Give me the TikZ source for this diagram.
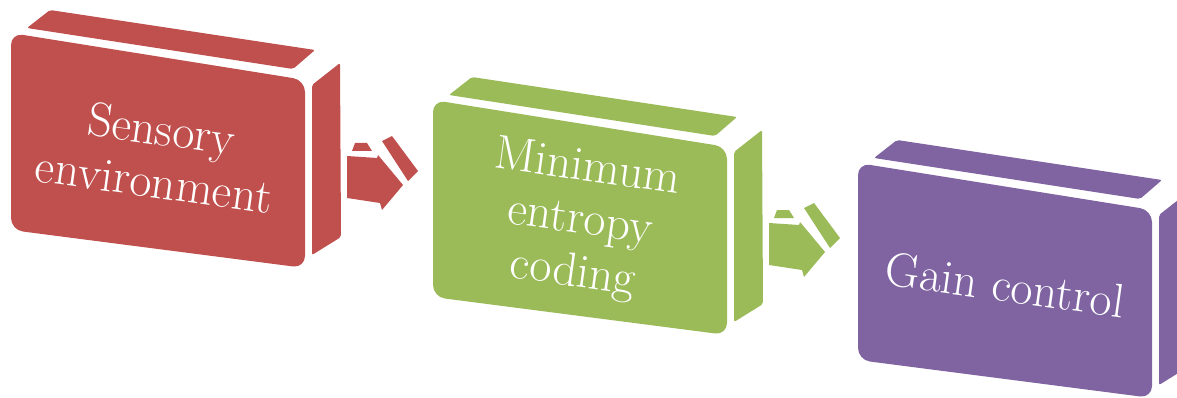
\documentclass[tikz,border=0pt]{standalone}
\usepackage{tikz}
\definecolor{boxred}{HTML}{C0504D}
\definecolor{boxgreen}{HTML}{9BBB59}
\definecolor{boxpurple}{HTML}{8064A2}
\tikzset{
    front face/.style={fill=#1, rounded corners=12},
    side face/.style={fill=#1, rounded corners=2},
    box text/.style={text=white, align=center, rotate=-8,
        font=\fontsize{48}{53}\selectfont},
}

\begin{document}
\begin{tikzpicture}[x=1pt, y=-1pt]
            \useasboundingbox (0,0) rectangle (1177,398);
            % three slanted blocks, each with a front, a top and a right face
            \foreach \n/\ox/\oy/\col/\txt in {%
                    1/11/33/boxred/{Sensory\\environment},
                    2/433/100/boxgreen/{Minimum\\entropy\\coding},
                    3/858/163/boxpurple/{Gain control}}{
                \coordinate (box\n) at (\ox,\oy);
                \begin{scope}[shift={(box\n)}]
                    \fill[side face=\col] (16,-5) -- (39,-23) -- (304,17) -- (282,36) -- cycle;
                    \fill[side face=\col] (301,52) -- (329,30) -- (330,204) -- (301,222) -- cycle;
                    \fill[front face=\col] (0,100) -- (0,0) -- (294,47) -- (294,235) -- (0,197) -- cycle;
                    \node[box text] (label\n) at (147,122) {\txt};
                \end{scope}
            }
            % block arrows from one block to the next
            \foreach \n/\col in {1/boxred, 2/boxgreen}{
                \begin{scope}[shift={(box\n)}]
                    \fill[\col] (336,123) -- (366,125) -- (367,122) -- (392,152)
                        -- (371,177) -- (369,170) -- (336,165) -- cycle;
                    \fill[\col] (344,110) -- (356,110) -- (361,118) -- (341,118) -- cycle;
                    \fill[\col] (371,108) -- (381,103) -- (407,138) -- (397,148) -- cycle;
                \end{scope}
            }
        \end{tikzpicture}
\end{document}
